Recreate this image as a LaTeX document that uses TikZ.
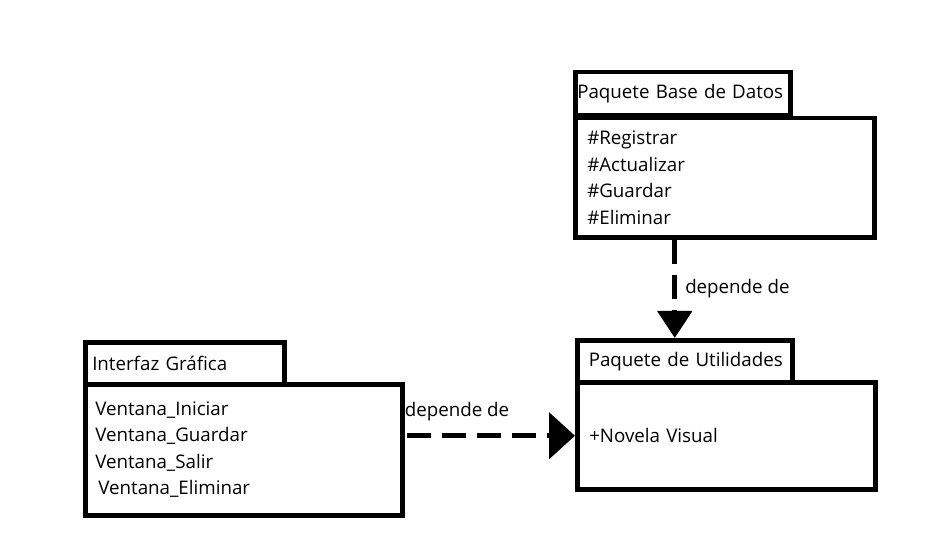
\documentclass[tikz,border=0pt]{standalone}
\usepackage{fontspec}
\setmainfont{Open Sans}
\usetikzlibrary{arrows.meta,positioning}

\begin{document}
\begin{tikzpicture}[x=1bp,y=-1bp,
  box/.style={draw,line width=4.5bp,anchor=north west,inner xsep=3bp,align=left,
    font=\fontsize{18.8}{26.5}\selectfont},
  dep/.style={line width=5bp,dash pattern=on 24bp off 11bp,
    -{Triangle[length=26bp,width=46bp]}},
  deplbl/.style={font=\fontsize{18.8}{22}\selectfont,inner sep=0}]
\useasboundingbox (0,0) rectangle (951,541);
% paquete base de datos
\node[box,text width=211bp,inner xsep=2bp,minimum height=43bp] (dbtab) at (573,70) {Paquete Base de Datos};
\node[box,text width=275bp,inner xsep=12bp,minimum height=119bp] (dbbody) at (573,116)
  {\#Registrar\\ \#Actualizar\\ \#Guardar\\ \#Eliminar};
% paquete de utilidades
\node[box,text width=198bp,inner xsep=8.5bp,minimum height=42bp] (utiltab) at (575,338) {\hspace*{3bp}Paquete de Utilidades};
\node[box,text width=274bp,inner xsep=12bp,minimum height=107bp] (utilbody) at (575,380) {+Novela Visual};
% interfaz grafica
\node[box,text width=185bp,inner xsep=7bp,minimum height=42bp] (guitab) at (83,340) {Interfaz Gráfica};
\node[box,text width=297bp,inner xsep=10bp,minimum height=131bp] (guibody) at (83,382)
  {Ventana\_Iniciar\\ Ventana\_Guardar\\ Ventana\_Salir\\ \,Ventana\_Eliminar};
% dependencias
\draw[dep,-{Triangle[length=27bp,width=34bp]}] ([xshift=-10bp]utiltab.north |- dbbody.south) -- ([xshift=-10bp]utiltab.north)
  node[midway,right=8bp,deplbl] {depende de};
\draw[dep] ([xshift=2bp]guibody.east |- utilbody.west) -- (utilbody.west)
  node[pos=0.3,above=12bp,deplbl] {depende de};
\end{tikzpicture}
\end{document}
